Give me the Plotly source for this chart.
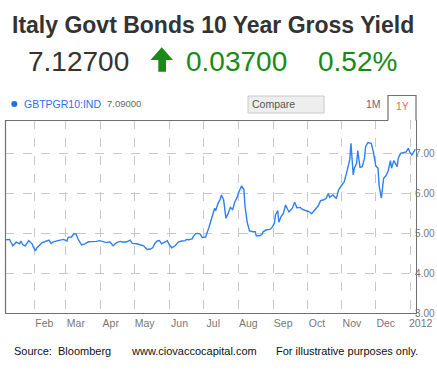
import plotly.graph_objects as go

# ---------------- data ----------------
dates = [
    "2011-01-07", "2011-01-10", "2011-01-13", "2011-01-16", "2011-01-19", "2011-01-20",
    "2011-01-22", "2011-01-24", "2011-01-27", "2011-01-30", "2011-01-31", "2011-02-02",
    "2011-02-03", "2011-02-08", "2011-02-12", "2011-02-14", "2011-02-16", "2011-02-18",
    "2011-02-22", "2011-02-25", "2011-02-27", "2011-03-02", "2011-03-03", "2011-03-06",
    "2011-03-08", "2011-03-10", "2011-03-12", "2011-03-15", "2011-03-18", "2011-03-21",
    "2011-03-25", "2011-03-28", "2011-03-31", "2011-04-03", "2011-04-06", "2011-04-09",
    "2011-04-12", "2011-04-15", "2011-04-18", "2011-04-21", "2011-04-24", "2011-04-27",
    "2011-04-29", "2011-05-03", "2011-05-06", "2011-05-09", "2011-05-12", "2011-05-15",
    "2011-05-17", "2011-05-19", "2011-05-21", "2011-05-23", "2011-05-25", "2011-05-28",
    "2011-05-30", "2011-06-01", "2011-06-03", "2011-06-06", "2011-06-09", "2011-06-12",
    "2011-06-15", "2011-06-16", "2011-06-18", "2011-06-21", "2011-06-22", "2011-06-24",
    "2011-06-26", "2011-06-28", "2011-06-30", "2011-07-03", "2011-07-04", "2011-07-06",
    "2011-07-08", "2011-07-11", "2011-07-12", "2011-07-14", "2011-07-16", "2011-07-17",
    "2011-07-19", "2011-07-21", "2011-07-23", "2011-07-25", "2011-07-27", "2011-07-29",
    "2011-07-31", "2011-08-01", "2011-08-03", "2011-08-04", "2011-08-06", "2011-08-07",
    "2011-08-09", "2011-08-10", "2011-08-11", "2011-08-14", "2011-08-16", "2011-08-17",
    "2011-08-20", "2011-08-22", "2011-08-23", "2011-08-26", "2011-08-29", "2011-08-31",
    "2011-09-02", "2011-09-03", "2011-09-05", "2011-09-06", "2011-09-08", "2011-09-10",
    "2011-09-12", "2011-09-14", "2011-09-15", "2011-09-18", "2011-09-20", "2011-09-22",
    "2011-09-25", "2011-09-27", "2011-09-29", "2011-10-01", "2011-10-03", "2011-10-05",
    "2011-10-08", "2011-10-11", "2011-10-13", "2011-10-16", "2011-10-18", "2011-10-20",
    "2011-10-21", "2011-10-24", "2011-10-27", "2011-10-29", "2011-11-01", "2011-11-03",
    "2011-11-05", "2011-11-07", "2011-11-08", "2011-11-09", "2011-11-11", "2011-11-12",
    "2011-11-14", "2011-11-15", "2011-11-17", "2011-11-19", "2011-11-21", "2011-11-22",
    "2011-11-24", "2011-11-27", "2011-11-29", "2011-12-01", "2011-12-03", "2011-12-04",
    "2011-12-06", "2011-12-08", "2011-12-10", "2011-12-12", "2011-12-14", "2011-12-15",
    "2011-12-17", "2011-12-20", "2011-12-21", "2011-12-23", "2011-12-25", "2011-12-28",
    "2011-12-30", "2011-12-31", "2012-01-02", "2012-01-03", "2012-01-05",
]
yields = [
    4.83, 4.84, 4.68, 4.77, 4.73, 4.80,
    4.70, 4.68, 4.81, 4.73, 4.66, 4.55,
    4.62, 4.76, 4.80, 4.82, 4.74, 4.78,
    4.81, 4.83, 4.84, 4.80, 4.89, 4.90,
    4.98, 4.98, 4.84, 4.70, 4.73, 4.78,
    4.78, 4.79, 4.81, 4.78, 4.76, 4.78,
    4.68, 4.76, 4.79, 4.77, 4.78, 4.82,
    4.74, 4.73, 4.71, 4.68, 4.59, 4.60,
    4.63, 4.74, 4.80, 4.81, 4.73, 4.78,
    4.81, 4.70, 4.63, 4.68, 4.78, 4.80,
    4.81, 4.84, 4.83, 4.85, 4.91, 4.98,
    4.99, 4.98, 4.89, 4.90, 4.97, 5.14,
    5.33, 5.62, 5.56, 5.74, 5.84, 5.95,
    5.83, 5.37, 5.49, 5.64, 5.59, 5.78,
    5.89, 5.99, 6.12, 6.18, 6.08, 5.66,
    5.26, 5.12, 5.05, 5.03, 5.03, 4.93,
    4.93, 4.97, 5.03, 5.08, 5.09, 5.14,
    5.24, 5.45, 5.56, 5.27, 5.41, 5.49,
    5.70, 5.58, 5.53, 5.62, 5.77, 5.63,
    5.64, 5.59, 5.56, 5.55, 5.53, 5.48,
    5.58, 5.68, 5.81, 5.83, 5.87, 5.99,
    5.89, 5.95, 5.86, 6.08, 6.20, 6.28,
    6.49, 6.70, 6.84, 7.24, 6.45, 6.62,
    6.74, 7.06, 6.64, 6.66, 6.87, 7.16,
    7.26, 7.24, 7.01, 6.68, 6.62, 6.18,
    5.87, 6.37, 6.43, 6.55, 6.81, 6.62,
    6.81, 6.66, 6.87, 6.99, 7.01, 7.03,
    7.12, 7.03, 6.95, 6.99, 7.09,
]
month_ticks = ["2011-02-01", "2011-03-01", "2011-04-01", "2011-05-01", "2011-06-01",
               "2011-07-01", "2011-08-01", "2011-09-01", "2011-10-01", "2011-11-01",
               "2011-12-01", "2012-01-01"]
month_labels = ["Feb", "Mar", "Apr", "May", "Jun", "Jul", "Aug", "Sep", "Oct", "Nov",
                "Dec", "2012"]
y_ticks = [3, 4, 5, 6, 7]

title_text = "Italy Govt Bonds 10 Year Gross Yield"
last_price = "7.12700"
change_abs = "0.03700"
change_pct = "0.52%"
ticker = "GBTPGR10:IND"
ticker_value = "7.09000"

# ---------------- layout helpers (pixel -> paper) ----------------
W, H = 437, 373
L, R, T, B = 5, 416, 120, 313


def px(x):
    return (x - L) / (R - L)


def py(y):
    return (B - y) / (B - T)


FONT = "Arial, Liberation Sans, sans-serif"
LINE_BLUE = "#2f80f0"
GREEN = "#178a17"
FRAME = "#707070"

fig = go.Figure()
fig.add_trace(go.Scatter(
    x=dates, y=yields, mode="lines",
    line=dict(color=LINE_BLUE, width=1.4),
    showlegend=False, hoverinfo="x+y",
))

annotations = []


def text(x, y, s, size, color, anchor="left", bold=False):
    if bold:
        s = "<b>" + s + "</b>"
    annotations.append(dict(
        x=px(x), y=py(y), xref="paper", yref="paper", text=s, showarrow=False,
        xanchor=anchor, yanchor="middle",
        font=dict(family=FONT, size=size, color=color),
    ))


# header
text(213, 25, title_text, 23, "#333333", anchor="center", bold=True)
text(26, 61, last_price, 28, "#333333")
text(184, 61, change_abs, 28, GREEN)
text(316, 61, change_pct, 28, GREEN)

# legend / controls
text(22, 104, ticker, 10.5, "#2f6fe8")
text(105, 104, ticker_value, 9.5, "#666666")
text(250, 104.5, "Compare", 10.5, "#555555")
text(373, 104, "1M", 10.5, "#6a5f78", anchor="center")
text(402, 106, "1Y", 10.5, "#ff6a33", anchor="center")

# footer
text(12, 351, "Source:\u00a0\u00a0Bloomberg", 11, "#111111")
text(129, 351, "www.ciovaccocapital.com", 11, "#111111")
text(274, 351, "For illustrative purposes only.", 11, "#111111")

shapes = []
# arrow
arrow_pts = [(161.7, 47.3), (173, 60), (166, 60), (166, 71.7), (158.3, 71.7), (158.3, 60), (150.5, 60)]
path = "M " + " L ".join(f"{px(a)},{py(b)}" for a, b in arrow_pts) + " Z"
shapes.append(dict(type="path", xref="paper", yref="paper", path=path,
                   fillcolor=GREEN, line=dict(width=0)))
# legend dot
shapes.append(dict(type="circle", xref="paper", yref="paper",
                   x0=px(11.3), x1=px(17.3), y0=py(107), y1=py(101),
                   fillcolor="#1f6ff0", line=dict(width=0)))
# compare box
shapes.append(dict(type="rect", xref="paper", yref="paper",
                   x0=px(248), x1=px(324), y0=py(113), y1=py(96),
                   fillcolor="#eeeeee", line=dict(color="#c8c8c8", width=1)))
# frame: left, top (up to tab), tab
shapes.append(dict(type="line", xref="paper", yref="paper",
                   x0=px(5.5), x1=px(5.5), y0=py(313), y1=py(120),
                   line=dict(color=FRAME, width=1.2)))
shapes.append(dict(type="line", xref="paper", yref="paper",
                   x0=px(5), x1=px(388), y0=py(120.5), y1=py(120.5),
                   line=dict(color=FRAME, width=1.2)))
shapes.append(dict(type="path", xref="paper", yref="paper",
                   path=f"M {px(388)},{py(120.5)} L {px(388)},{py(95.5)} L {px(416)},{py(95.5)} L {px(416)},{py(120.5)}",
                   line=dict(color=FRAME, width=1.2)))

fig.update_layout(
    width=W, height=H,
    margin=dict(l=L, r=W - R, t=T, b=H - B),
    paper_bgcolor="white", plot_bgcolor="white",
    annotations=annotations, shapes=shapes,
    xaxis=dict(
        type="date", range=["2011-01-06", "2012-01-05 17:00"],
        tickvals=month_ticks, ticktext=month_labels,
        ticklabelshift=10, ticklen=0, automargin=False,
        showgrid=True, gridcolor="#c8c8c8", griddash="dash", gridwidth=1,
        showline=True, linecolor=FRAME, linewidth=1.2,
        ticks="", zeroline=False,
        tickfont=dict(family=FONT, size=10.5, color="#777777"),
    ),
    yaxis=dict(
        range=[3, 7.825], side="right", tickvals=y_ticks, tickformat=".2f",
        ticklen=0, ticklabelstandoff=-4, automargin=False,
        showgrid=True, gridcolor="#c8c8c8", griddash="dash", gridwidth=1,
        showline=True, linecolor=FRAME, linewidth=1.2,
        ticks="", zeroline=False,
        tickfont=dict(family=FONT, size=10, color="#777777"),
    ),
)

fig.write_html(
    "out.html",
    config={"displayModeBar": False},
    post_script="document.body.style.margin='0px';document.body.style.padding='0px';",
)
